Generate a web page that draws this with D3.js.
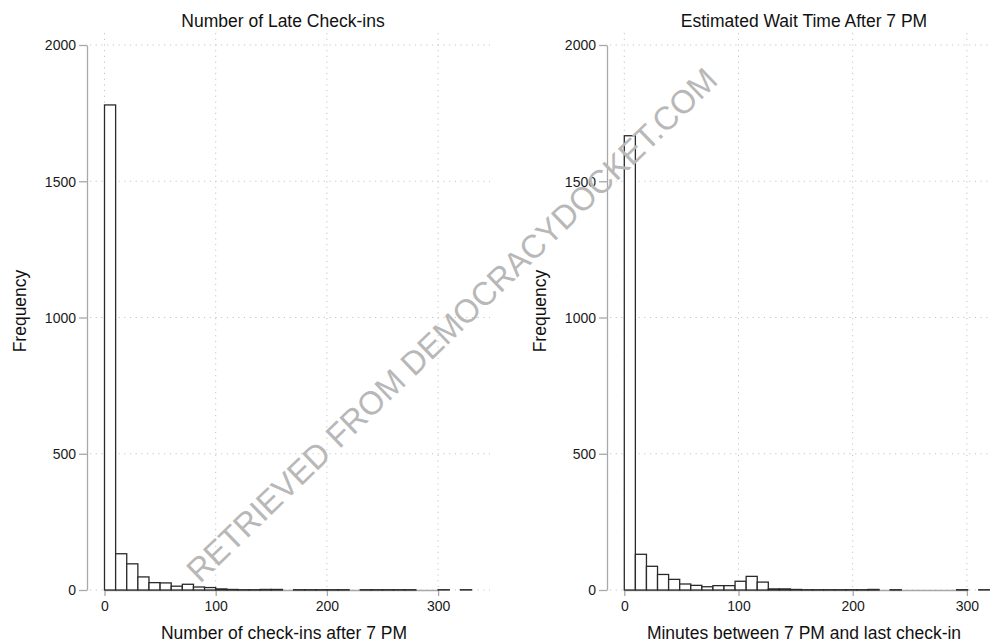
<!DOCTYPE html>
<html>
<head>
<meta charset="utf-8">
<script src="https://cdn.jsdelivr.net/npm/d3@7"></script>
<style>
  html, body { margin: 0; padding: 0; background: #fff; }
  svg { display: block; font-family: "Liberation Sans", Arial, Helvetica, sans-serif; }
</style>
</head>
<body>
<svg id="chart" width="990" height="643"></svg>
<script>
// Histogram counts per bin (bins start at 0)
const checkinBinWidth = 10;
const checkinCounts = [1780, 133, 96, 48, 27, 26, 14, 21, 11, 9,
                       4, 2, 1, 1, 2, 2, 0, 1, 1, 1,
                       1, 1, 0, 1, 1, 1, 1, 1, 0, 0,
                       1, 0, 1];

const waitBinWidth = 9.7;
const waitCounts = [1667, 131, 87, 57, 39, 22, 17, 12, 16, 16,
                    32, 50, 29, 4, 4, 2, 1, 1, 1, 1,
                    1, 1, 2, 0, 1, 0, 0, 0, 0, 0,
                    1, 0, 1];

const xTicks = [0, 100, 200, 300];
const yTicks = [0, 500, 1000, 1500, 2000];

const titles = ["Number of Late Check-ins", "Estimated Wait Time After 7 PM"];
const xTitles = ["Number of check-ins after 7 PM", "Minutes between 7 PM and last check-in"];
const yTitle = "Frequency";
const watermark = "RETRIEVED FROM DEMOCRACYDOCKET.COM";

const svg = d3.select("#chart");

// Panel layout
const panels = [
  { counts: checkinCounts, bw: checkinBinWidth, title: titles[0], xTitle: xTitles[0],
    axisX: 87, x0: 104.5, x300: 438.1, gridL: 90, gridR: 490, titleX: 283, xTitleX: 284, yTitleX: 26 },
  { counts: waitCounts, bw: waitBinWidth, title: titles[1], xTitle: xTitles[1],
    axisX: 607, x0: 624.3, x300: 966.9, gridL: 610, gridR: 1000, titleX: 804, xTitleX: 804, yTitleX: 546 }
];

const yTop = 45, yBottom = 590;

panels.forEach(p => {
  const g = svg.append("g");
  const x = d3.scaleLinear().domain([0, 300]).range([p.x0, p.x300]);
  const y = d3.scaleLinear().domain([0, 2000]).range([yBottom, yTop]);

  // dotted grid
  const grid = g.append("g").attr("stroke", "#c4c4c4").attr("stroke-width", 1)
    .attr("stroke-dasharray", "1.2,4.5").attr("fill", "none");
  yTicks.forEach(t => {
    grid.append("line").attr("x1", p.gridL).attr("x2", p.gridR)
      .attr("y1", y(t)).attr("y2", y(t));
  });
  xTicks.forEach(t => {
    grid.append("line").attr("x1", x(t)).attr("x2", x(t))
      .attr("y1", 33).attr("y2", yBottom);
  });

  // axes
  const yAxis = d3.axisLeft(y).tickValues(yTicks).tickFormat(d3.format("d"))
    .tickSize(8).tickPadding(3).tickSizeOuter(0);
  const ya = g.append("g").attr("transform", `translate(${p.axisX},0)`).call(yAxis);
  const xAxis = d3.axisBottom(x).tickValues(xTicks).tickFormat(d3.format("d"))
    .tickSize(6).tickPadding(5).tickSizeOuter(0);
  const xa = g.append("g").attr("transform", `translate(0,${yBottom})`).call(xAxis);
  [ya, xa].forEach(a => {
    a.select(".domain").attr("stroke", "#a8a8a8").attr("stroke-width", 1.3);
    a.selectAll(".tick line").attr("stroke", "#a8a8a8").attr("stroke-width", 1.3);
    a.selectAll(".tick text").attr("fill", "#1a1a1a").style("font-size", "14px")
      .style("font-family", "'Liberation Sans', Arial, sans-serif");
  });
  ya.selectAll(".tick text").attr("dy", "0.35em");

  // bars
  const bins = p.counts.map((c, i) => ({ x0: i * p.bw, x1: (i + 1) * p.bw, c }))
    .filter(d => d.c > 0);
  g.append("g").selectAll("rect").data(bins).join("rect")
    .attr("x", d => x(d.x0))
    .attr("width", d => x(d.x1) - x(d.x0))
    .attr("y", d => y(d.c))
    .attr("height", d => y(0) - y(d.c))
    .attr("fill", "#fff")
    .attr("stroke", "#2a2a2a")
    .attr("stroke-width", 1.3);

  // titles
  g.append("text").attr("x", p.titleX).attr("y", 26.5).attr("text-anchor", "middle")
    .style("font-size", "17.5px").attr("fill", "#111").text(p.title);
  g.append("text").attr("x", p.xTitleX).attr("y", 639).attr("text-anchor", "middle")
    .style("font-size", "17.5px").attr("fill", "#111").text(p.xTitle);
  g.append("text").attr("transform", `translate(${p.yTitleX},311) rotate(-90)`)
    .attr("text-anchor", "middle").style("font-size", "17.5px").attr("fill", "#111").text(yTitle);
});

// diagonal watermark
svg.append("text")
  .attr("transform", "translate(200,584) rotate(-44)")
  .attr("textLength", 722)
  .attr("lengthAdjust", "spacingAndGlyphs")
  .style("font-size", "33px")
  .attr("fill", "#b8b8b8")
  .text(watermark);
</script>
</body>
</html>
